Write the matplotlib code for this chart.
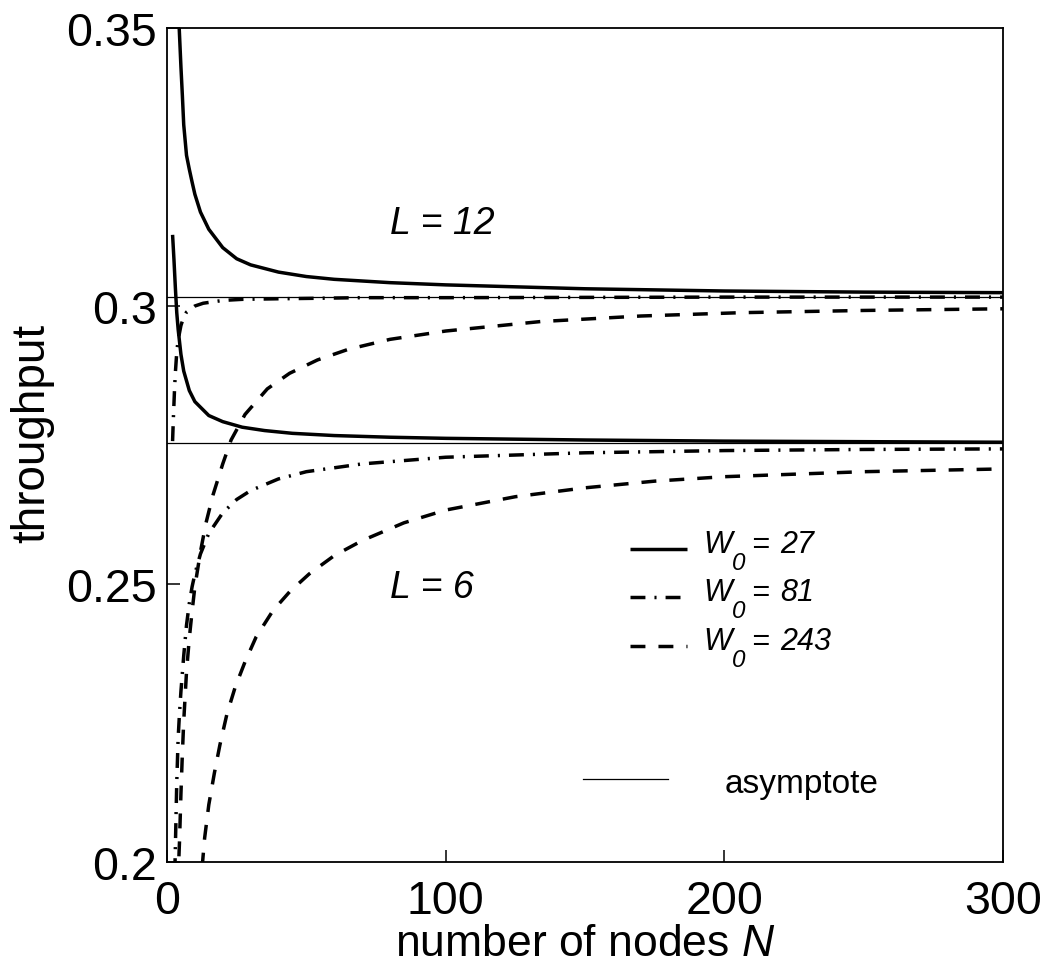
import matplotlib

matplotlib.use("Agg")
import matplotlib.pyplot as plt
from matplotlib.transforms import offset_copy

plt.rcParams["font.family"] = ["Liberation Sans", "DejaVu Sans"]
plt.rcParams["mathtext.fontset"] = "custom"
plt.rcParams["mathtext.it"] = "Liberation Sans:italic"
plt.rcParams["mathtext.rm"] = "Liberation Sans:italic"

# throughput vs number of nodes
n_l12_w27 = [4.2, 5, 5.5, 6, 7, 8, 9, 10, 12, 15, 20, 25, 30, 40, 50, 60, 80, 100,
             150, 200, 250, 300]
y_l12_w27 = [0.352, 0.343, 0.338, 0.3326, 0.3271, 0.3246, 0.3223, 0.3201, 0.3169,
             0.3138, 0.3105, 0.3085, 0.3074, 0.3061, 0.3053, 0.3048, 0.3042, 0.3038,
             0.3031, 0.3027, 0.3025, 0.3024]

n_l12_w81 = [2, 2.3, 2.7, 3, 3.5, 4, 5, 6, 7, 10, 13, 20, 27, 40, 70, 100, 200, 300]
y_l12_w81 = [0.2757, 0.2800, 0.2850, 0.2880, 0.2917, 0.2939, 0.2965, 0.2980, 0.2989,
             0.3000, 0.3005, 0.3010, 0.3012, 0.3013, 0.3015, 0.3015, 0.3016, 0.3016]

n_l12_w243 = [3.9, 4.5, 5, 5.5, 6, 7, 8, 9, 10, 12, 14, 16.5, 20, 23, 28, 36, 44, 54,
              65, 80, 100, 134, 170, 206, 250, 300]
y_l12_w243 = [0.196, 0.2039, 0.2123, 0.2193, 0.2253, 0.2342, 0.2402, 0.2451, 0.2495,
              0.2558, 0.2610, 0.2660, 0.2716, 0.2759, 0.2805, 0.2851, 0.2879, 0.2903,
              0.2922, 0.2940, 0.2955, 0.2972, 0.2982, 0.2988, 0.2992, 0.2995]

n_l6_w27 = [2, 2.5, 3, 3.5, 4, 5, 6, 8, 10, 15, 20, 27, 35, 45, 60, 80, 100, 150, 200,
            250, 300]
y_l6_w27 = [0.3128, 0.3083, 0.3033, 0.2988, 0.2958, 0.2913, 0.2883, 0.2848, 0.2828,
            0.2803, 0.2792, 0.2782, 0.2776, 0.2771, 0.2767, 0.2764, 0.2762, 0.2759,
            0.2757, 0.2756, 0.2755]

n_l6_w81 = [2.8, 3.5, 4, 4.5, 5, 6, 7, 8, 9, 10, 12, 15, 20, 25, 30, 40, 50, 70, 100,
            150, 200, 250, 300]
y_l6_w81 = [0.198, 0.2143, 0.2223, 0.2269, 0.2307, 0.2371, 0.2426, 0.2465, 0.2495,
            0.2518, 0.2554, 0.2591, 0.2628, 0.2652, 0.2668, 0.2689, 0.2702, 0.2716,
            0.2728, 0.2736, 0.2740, 0.2742, 0.2743]

n_l6_w243 = [12.6, 13.5, 15, 17, 19, 21.5, 24.5, 28, 32, 38, 44, 51, 60, 70, 85, 100,
             125, 150, 175, 200, 250, 300]
y_l6_w243 = [0.199, 0.2043, 0.2103, 0.2160, 0.2211, 0.2266, 0.2315, 0.2360, 0.2405,
             0.2452, 0.2486, 0.2518, 0.2551, 0.2578, 0.2610, 0.2633, 0.2657, 0.2673,
             0.2685, 0.2693, 0.2702, 0.2707]

asymptotes = [0.3017, 0.2753]
legend_values = ["27", "81", "243"]

LW = 2.5
STYLES = {
    "27": dict(ls="-"),
    "81": dict(ls=(0, (4.3, 2.6, 0.6, 2.6))),
    "243": dict(ls=(0, (4.3, 3.75))),
}

fig = plt.figure(figsize=(10.51, 9.70), dpi=100)
ax = fig.add_axes([0.1589, 0.1103, 0.7954, 0.8598])

for y in asymptotes:
    ax.axhline(y, color="black", lw=0.9, zorder=1)

curves = [
    (n_l12_w27, y_l12_w27, "27"), (n_l12_w81, y_l12_w81, "81"),
    (n_l12_w243, y_l12_w243, "243"), (n_l6_w27, y_l6_w27, "27"),
    (n_l6_w81, y_l6_w81, "81"), (n_l6_w243, y_l6_w243, "243"),
]
for n, y, w in curves:
    ax.plot(n, y, color="black", lw=LW, solid_capstyle="butt", dash_capstyle="butt",
            **STYLES[w])

ax.set_xlim(0, 300)
ax.set_ylim(0.2, 0.35)
ax.set_xticks([0, 100, 200, 300])
ax.set_yticks([0.2, 0.25, 0.3, 0.35])
ax.set_yticklabels(["0.2", "0.25", "0.3", "0.35"])
ax.tick_params(direction="in", length=9, width=1.1, labelsize=33.5,
               top=False, right=False)
ax.tick_params(axis="x", pad=12)
ax.tick_params(axis="y", pad=7)
for s in ax.spines.values():
    s.set_linewidth(1.3)

ax.set_xlabel(r"number of nodes $N$", fontsize=32, labelpad=0)
ax.set_ylabel("throughput", fontsize=33, labelpad=9, y=0.515)

ax.text(80, 0.3149, "L = 12", fontsize=27, style="italic", ha="left", va="center")
ax.text(80, 0.2495, "L = 6", fontsize=27, style="italic", ha="left", va="center")

# hand-made legend, MATLAB style (subscript almost full size, set low)
leg_y = [0.3753, 0.3177, 0.2590]
tx = 0.642
for yy, w in zip(leg_y, legend_values):
    ax.plot([0.554, 0.622], [yy, yy], transform=ax.transAxes, color="black", lw=LW,
            solid_capstyle="butt", dash_capstyle="butt", **STYLES[w])
    base = yy - 0.0036
    kw = dict(fontsize=22, style="italic", ha="left", va="baseline")
    ax.text(tx, base, "W", transform=ax.transAxes, **kw)
    ax.text(tx, base, "0", fontsize=17.5, style="italic", ha="left", va="baseline",
            transform=offset_copy(ax.transAxes, fig=fig, x=20.5, y=-12.2, units="points"))
    ax.text(tx, base, "=", transform=offset_copy(ax.transAxes, fig=fig, x=34,
                                                 units="points"), **kw)
    ax.text(tx, base, w, transform=offset_copy(ax.transAxes, fig=fig, x=55,
                                               units="points"), **kw)
ax.plot([0.498, 0.599], [0.0995, 0.0995], transform=ax.transAxes, color="black", lw=0.9)
ax.text(0.6675, 0.0839, "asymptote", transform=ax.transAxes, fontsize=24,
        ha="left", va="baseline")

fig.savefig("out.png", dpi=100)
